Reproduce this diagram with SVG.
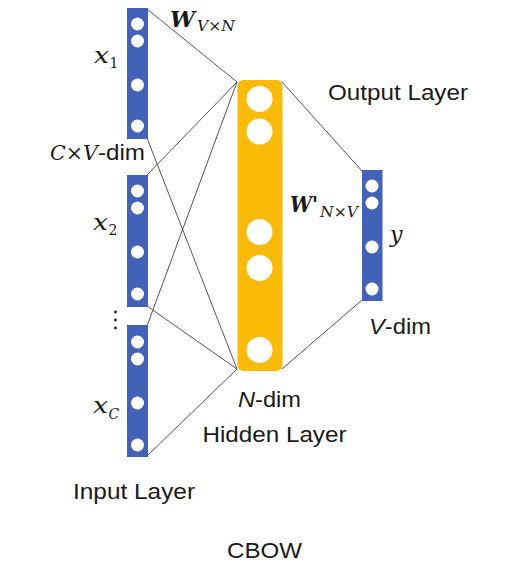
<svg xmlns="http://www.w3.org/2000/svg" width="526" height="569" viewBox="0 0 526 569">
<style>
.bar{fill:#4262BA}
.hid{fill:#F9BA08}
.dot{fill:#fff}
.lbl{font-family:"Liberation Sans",Arial,sans-serif;font-size:22px;fill:#1a1a1a}
.math{font-family:"DejaVu Serif","Liberation Serif",serif;font-style:italic;fill:#1a1a1a}
.sub{font-family:"DejaVu Serif","Liberation Serif",serif;font-size:14px;fill:#1a1a1a}
.bold{font-weight:bold}
.conn line{stroke:#555;stroke-width:1}
</style>
<rect width="526" height="569" fill="#fff"/>
<g class="conn" id="connectors">
<line x1="147" y1="9" x2="237" y2="82"/>
<line x1="147" y1="138" x2="237" y2="369"/>
<line x1="147" y1="175" x2="237" y2="82"/>
<line x1="147" y1="306" x2="237" y2="369"/>
<line x1="147" y1="326" x2="237" y2="82"/>
<line x1="147" y1="456" x2="237" y2="369"/>
<line x1="282" y1="82" x2="362" y2="171"/>
<line x1="282" y1="369" x2="362" y2="300"/>
</g>
<g id="x1">
<rect class="bar" x="127" y="8" width="21" height="131"/>
<circle class="dot" cx="137.5" cy="24" r="6.5"/>
<circle class="dot" cx="137.5" cy="41" r="6.5"/>
<circle class="dot" cx="137.5" cy="85" r="6.5"/>
<circle class="dot" cx="137.5" cy="126" r="6.5"/>
<text class="math" x="94" y="63" font-size="22" textLength="15" lengthAdjust="spacingAndGlyphs">x</text>
<text class="sub" x="109.5" y="67.5">1</text>
</g>
<g id="x2">
<rect class="bar" x="127" y="175" width="21" height="132"/>
<circle class="dot" cx="137.5" cy="191" r="6.5"/>
<circle class="dot" cx="137.5" cy="208" r="6.5"/>
<circle class="dot" cx="137.5" cy="252" r="6.5"/>
<circle class="dot" cx="137.5" cy="294" r="6.5"/>
<text class="math" x="93" y="230" font-size="22" textLength="15" lengthAdjust="spacingAndGlyphs">x</text>
<text class="sub" x="108.5" y="234.5">2</text>
</g>
<g id="ellipsis">
<circle cx="115.5" cy="312" r="1.4" fill="#1a1a1a"/>
<circle cx="115.5" cy="320" r="1.4" fill="#1a1a1a"/>
<circle cx="115.5" cy="328" r="1.4" fill="#1a1a1a"/>
</g>
<g id="xC">
<rect class="bar" x="127" y="325" width="21" height="132"/>
<circle class="dot" cx="137.5" cy="342" r="6.5"/>
<circle class="dot" cx="137.5" cy="359" r="6.5"/>
<circle class="dot" cx="137.5" cy="403" r="6.5"/>
<circle class="dot" cx="137.5" cy="445" r="6.5"/>
<text class="math" x="93" y="413" font-size="22" textLength="15" lengthAdjust="spacingAndGlyphs">x</text>
<text class="sub" x="108.5" y="419" font-style="italic" font-size="15">C</text>
</g>
<g id="input-label">
<text class="math" x="50" y="160" font-size="21" textLength="48" lengthAdjust="spacingAndGlyphs">C×V</text>
<text class="lbl" x="98" y="160" textLength="47" lengthAdjust="spacingAndGlyphs">-dim</text>
<text class="lbl" x="73" y="499" textLength="122" lengthAdjust="spacingAndGlyphs">Input Layer</text>
</g>
<g id="W">
<text class="math bold" x="170" y="27" font-size="23" textLength="25" lengthAdjust="spacingAndGlyphs">W</text>
<text class="sub" x="197" y="31" font-style="italic" font-size="15" textLength="38" lengthAdjust="spacingAndGlyphs">V×N</text>
</g>
<g id="hidden">
<rect class="hid" x="237.5" y="80" width="45" height="291" rx="6"/>
<circle class="dot" cx="259.5" cy="99" r="13"/>
<circle class="dot" cx="259.5" cy="131.5" r="13"/>
<circle class="dot" cx="259.5" cy="232" r="13"/>
<circle class="dot" cx="259.5" cy="268" r="13"/>
<circle class="dot" cx="259.5" cy="350" r="13"/>
<text class="lbl" x="238" y="406.5" textLength="63" lengthAdjust="spacingAndGlyphs"><tspan font-style="italic">N</tspan>-dim</text>
<text class="lbl" x="202.5" y="442" textLength="144" lengthAdjust="spacingAndGlyphs">Hidden Layer</text>
</g>
<g id="Wprime">
<text class="math bold" x="290" y="212" font-size="23" textLength="28" lengthAdjust="spacingAndGlyphs">W'</text>
<text class="sub" x="320" y="217" font-style="italic" font-size="15" textLength="38" lengthAdjust="spacingAndGlyphs">N×V</text>
</g>
<g id="output">
<rect class="bar" x="362" y="170" width="20.5" height="131"/>
<circle class="dot" cx="372" cy="186" r="6.5"/>
<circle class="dot" cx="372" cy="203" r="6.5"/>
<circle class="dot" cx="372" cy="247" r="6.5"/>
<circle class="dot" cx="372" cy="289" r="6.5"/>
<text class="math" x="390" y="242" font-size="22">y</text>
<text class="lbl" x="369" y="334" textLength="62" lengthAdjust="spacingAndGlyphs"><tspan font-style="italic">V</tspan>-dim</text>
<text class="lbl" x="328" y="100" textLength="140" lengthAdjust="spacingAndGlyphs">Output Layer</text>
</g>
<g id="title">
<text class="lbl" x="227" y="558" textLength="75" lengthAdjust="spacingAndGlyphs">CBOW</text>
</g>
</svg>
